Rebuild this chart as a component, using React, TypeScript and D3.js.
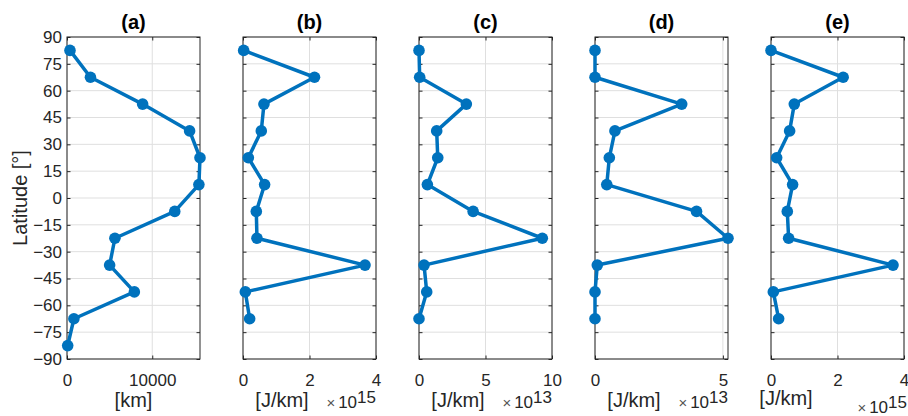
import * as d3 from "d3";
import { useEffect, useRef } from "react";

// latitude band centres (deg), panel (a) has one more band than the rest
const latA = [82.5, 67.5, 52.5, 37.5, 22.5, 7.5, -7.5, -22.5, -37.5, -52.5, -67.5, -82.5];
const latB = [82.5, 67.5, 52.5, 37.5, 22.5, 7.5, -7.5, -22.5, -37.5, -52.5, -67.5];

// (a) distance in km
const valuesA = [350, 2750, 8870, 14380, 15600, 15470, 12640, 5620, 5000, 7900, 810, 80];
// (b) and (e) in 1e15 J/km, (c) and (d) in 1e13 J/km
const valuesB = [0.02, 2.15, 0.63, 0.55, 0.16, 0.65, 0.4, 0.42, 3.67, 0.07, 0.2];
const valuesC = [0.0, 0.05, 3.56, 1.33, 1.41, 0.63, 4.07, 9.27, 0.38, 0.58, 0.0];
const valuesD = [0.0, 0.0, 3.39, 0.78, 0.56, 0.46, 3.97, 5.2, 0.09, 0.0, 0.0];
const valuesE = [0.0, 2.17, 0.7, 0.56, 0.17, 0.65, 0.49, 0.53, 3.67, 0.07, 0.23];

const titles = ["(a)", "(b)", "(c)", "(d)", "(e)"];
const xLabels = ["[km]", "[J/km]", "[J/km]", "[J/km]", "[J/km]"];
const exponents = [null, "15", "13", "13", "15"];
const xMax = [15600, 4, 10, 5.2, 4];
const xTicks = [[0, 10000], [0, 2, 4], [0, 5, 10], [0, 5], [0, 2, 4]];
const yTicks = [-90, -75, -60, -45, -30, -15, 0, 15, 30, 45, 60, 75, 90];

const W = 908;
const H = 416;
const FONT = "'Liberation Sans', Arial, Helvetica, sans-serif";
const TEXT = "#262626";
const BLUE = "#0072BD";

export default function App() {
  const ref = useRef<SVGSVGElement>(null);

  useEffect(() => {
    const svg = d3.select(ref.current);
    svg.selectAll("*").remove();

    const top = 37;
    const bottom = 359;
    const left0 = 67;
    const pitch = 176;
    const pw = 133;

    const y = d3.scaleLinear().domain([-90, 90]).range([bottom, top]);

    const panels = [
      { lat: latA, vals: valuesA },
      { lat: latB, vals: valuesB },
      { lat: latB, vals: valuesC },
      { lat: latB, vals: valuesD },
      { lat: latB, vals: valuesE },
    ];

    panels.forEach((p, i) => {
      const left = left0 + i * pitch;
      const right = left + pw;
      const x = d3.scaleLinear().domain([0, xMax[i]]).range([left, right]);
      const g = svg.append("g");

      // grid
      g.selectAll("line.hgrid")
        .data(yTicks)
        .enter()
        .append("line")
        .attr("x1", left)
        .attr("x2", right)
        .attr("y1", (d) => y(d))
        .attr("y2", (d) => y(d))
        .attr("stroke", "#dfdfdf")
        .attr("stroke-width", 1);
      g.selectAll("line.vgrid")
        .data(xTicks[i])
        .enter()
        .append("line")
        .attr("x1", (d) => x(d))
        .attr("x2", (d) => x(d))
        .attr("y1", top)
        .attr("y2", bottom)
        .attr("stroke", "#dfdfdf")
        .attr("stroke-width", 1);

      // axes with inward ticks
      const yl = d3.axisLeft(y).tickValues(yTicks).tickSize(-3.5).tickSizeOuter(0).tickPadding(5);
      if (i > 0) yl.tickFormat(() => "");
      const gl = g.append("g").attr("transform", `translate(${left},0)`).call(yl);
      g.append("g")
        .attr("transform", `translate(${right},0)`)
        .call(d3.axisRight(y).tickValues(yTicks).tickSize(-3.5).tickSizeOuter(0).tickFormat(() => ""));
      const gb = g.append("g")
        .attr("transform", `translate(0,${bottom})`)
        .call(d3.axisBottom(x).tickValues(xTicks[i]).tickSize(-3.5).tickSizeOuter(0).tickPadding(15).tickFormat(d3.format("d")));
      g.append("g")
        .attr("transform", `translate(0,${top})`)
        .call(d3.axisTop(x).tickValues(xTicks[i]).tickSize(-3.5).tickSizeOuter(0).tickFormat(() => ""));

      g.selectAll(".domain").remove();
      g.selectAll(".tick line").attr("stroke", TEXT);
      [gl, gb].forEach((a) =>
        a.selectAll("text").attr("font-family", FONT).attr("font-size", 17).attr("fill", TEXT)
      );

      // box
      g.append("rect")
        .attr("x", left)
        .attr("y", top)
        .attr("width", pw)
        .attr("height", bottom - top)
        .attr("fill", "none")
        .attr("stroke", TEXT)
        .attr("stroke-width", 1);

      // data
      const pts = p.lat.map((la, k) => [p.vals[k], la] as [number, number]);
      const line = d3.line<[number, number]>().x((d) => x(d[0])).y((d) => y(d[1]));
      g.append("path")
        .attr("d", line(pts))
        .attr("fill", "none")
        .attr("stroke", BLUE)
        .attr("stroke-width", 3.5)
        .attr("stroke-linejoin", "round");
      g.selectAll("circle")
        .data(pts)
        .enter()
        .append("circle")
        .attr("cx", (d) => x(d[0]))
        .attr("cy", (d) => y(d[1]))
        .attr("r", 5.8)
        .attr("fill", BLUE);

      // title
      g.append("text")
        .attr("x", (left + right) / 2)
        .attr("y", 29)
        .attr("text-anchor", "middle")
        .attr("font-family", FONT)
        .attr("font-size", 20)
        .attr("font-weight", "bold")
        .attr("fill", "#000")
        .text(titles[i]);

      // x label and exponent
      const last = i === 4;
      const lx = exponents[i] === null ? (left + right) / 2 : last ? left + 15 : right - 94;
      g.append("text")
        .attr("x", lx)
        .attr("y", last ? 405 : 407)
        .attr("text-anchor", "middle")
        .attr("font-family", FONT)
        .attr("font-size", 20)
        .attr("fill", TEXT)
        .text(xLabels[i]);

      if (exponents[i] !== null) {
        const t = g.append("text")
          .attr("x", right + (last ? 3 : 0))
          .attr("y", last ? 413 : 408)
          .attr("text-anchor", "end")
          .attr("font-family", FONT)
          .attr("font-size", 17)
          .attr("fill", TEXT);
        t.append("tspan").attr("font-size", 15).attr("fill", "#555").text("\u00d7");
        t.append("tspan").attr("dx", 3).text("10");
        t.append("tspan").attr("dy", -5).text(exponents[i] as string);
      }
    });

    // y label
    svg.append("text")
      .attr("transform", `translate(27,${(top + bottom) / 2}) rotate(-90)`)
      .attr("text-anchor", "middle")
      .attr("font-family", FONT)
      .attr("font-size", 20)
      .attr("fill", TEXT)
      .text("Latitude [\u00b0]");
  }, []);

  return (
    <svg
      ref={ref}
      width={W}
      height={H}
      style={{ position: "absolute", left: 0, top: 0, background: "#fff" }}
    />
  );
}
